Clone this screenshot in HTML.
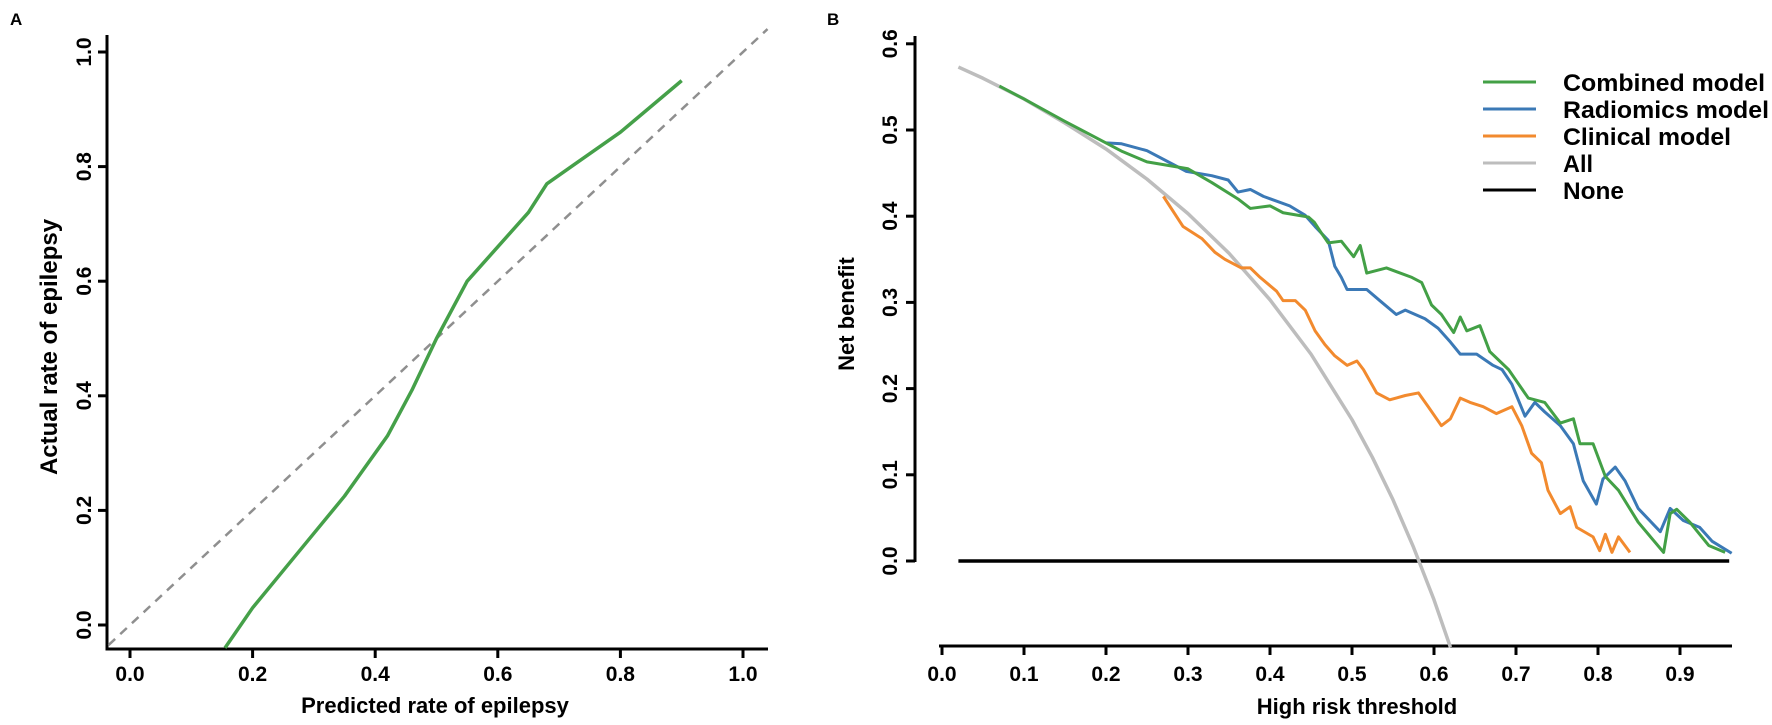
<!DOCTYPE html>
<html><head><meta charset="utf-8"><style>
html,body{margin:0;padding:0;background:#fff;}
svg{display:block;font-family:"Liberation Sans",Arial,sans-serif;}
</style></head><body>
<svg id="fig" width="1772" height="725" viewBox="0 0 1772 725" xmlns="http://www.w3.org/2000/svg">
<g id="pa"></g>
<g id="pb"></g>
</svg>
<script>
// Panel A data
const calPred = [0.155,0.2,0.25,0.3,0.35,0.38,0.42,0.46,0.5,0.55,0.6,0.65,0.68,0.72,0.8,0.9];
const calActual = [-0.04,0.03,0.095,0.16,0.225,0.27,0.33,0.41,0.5,0.6,0.66,0.72,0.77,0.8,0.86,0.95];
const aTicks = ["0.0","0.2","0.4","0.6","0.8","1.0"];
// Panel B data
const bXTicks = ["0.0","0.1","0.2","0.3","0.4","0.5","0.6","0.7","0.8","0.9"];
const bYTicks = ["0.0","0.1","0.2","0.3","0.4","0.5","0.6"];
const combT = [0.07,0.1,0.15,0.2,0.22,0.25,0.3,0.329,0.361,0.376,0.4,0.416,0.435,0.447,0.454,0.463,0.471,0.487,0.502,0.51,0.518,0.542,0.573,0.585,0.597,0.609,0.624,0.632,0.64,0.656,0.668,0.691,0.715,0.735,0.754,0.77,0.778,0.794,0.809,0.825,0.849,0.88,0.888,0.896,0.912,0.935,0.955];
const combV = [0.551,0.536,0.51,0.485,0.475,0.463,0.455,0.439,0.42,0.409,0.412,0.404,0.401,0.399,0.393,0.38,0.369,0.371,0.353,0.366,0.334,0.34,0.329,0.323,0.297,0.286,0.265,0.283,0.267,0.273,0.243,0.222,0.189,0.184,0.16,0.165,0.136,0.136,0.098,0.082,0.045,0.01,0.055,0.06,0.045,0.018,0.01];
const radT = [0.2,0.219,0.25,0.298,0.329,0.349,0.361,0.376,0.392,0.424,0.443,0.455,0.471,0.479,0.487,0.494,0.518,0.534,0.554,0.565,0.589,0.605,0.62,0.632,0.652,0.672,0.683,0.695,0.711,0.723,0.735,0.754,0.77,0.782,0.798,0.806,0.821,0.833,0.849,0.876,0.888,0.904,0.924,0.939,0.963];
const radV = [0.485,0.484,0.476,0.452,0.447,0.442,0.428,0.431,0.423,0.412,0.401,0.388,0.372,0.342,0.329,0.315,0.315,0.302,0.286,0.291,0.281,0.27,0.254,0.24,0.24,0.227,0.222,0.205,0.168,0.184,0.173,0.157,0.136,0.093,0.066,0.095,0.109,0.093,0.061,0.034,0.061,0.047,0.039,0.023,0.009];
const clinT = [0.27,0.294,0.317,0.333,0.345,0.365,0.376,0.388,0.408,0.416,0.431,0.443,0.455,0.467,0.479,0.494,0.506,0.514,0.53,0.546,0.565,0.581,0.593,0.609,0.62,0.632,0.644,0.66,0.676,0.695,0.707,0.719,0.731,0.739,0.754,0.766,0.774,0.794,0.802,0.809,0.817,0.825,0.839];
const clinV = [0.423,0.388,0.374,0.358,0.35,0.34,0.34,0.329,0.313,0.302,0.302,0.291,0.267,0.251,0.238,0.227,0.232,0.222,0.195,0.187,0.192,0.195,0.179,0.157,0.165,0.189,0.184,0.179,0.171,0.179,0.157,0.125,0.114,0.082,0.055,0.063,0.039,0.028,0.012,0.031,0.01,0.028,0.01];
const allT = [0.02,0.05,0.1,0.15,0.2,0.25,0.3,0.35,0.4,0.45,0.5,0.525,0.55,0.575,0.6,0.62];
const allV = [0.573,0.56,0.536,0.508,0.478,0.443,0.403,0.357,0.303,0.24,0.164,0.12,0.071,0.016,-0.045,-0.1];
const noneT = [0.02,0.96];
const noneV = [0,0];
const legendNames = ["Combined model","Radiomics model","Clinical model","All","None"];

const NS="http://www.w3.org/2000/svg";
function mk(parent,tag,attrs,text){const e=document.createElementNS(NS,tag);for(const k in attrs)e.setAttribute(k,attrs[k]);if(text!==undefined)e.textContent=text;parent.appendChild(e);return e;}

// ---- Panel A ----
const pa=document.getElementById('pa');
const xA=v=>130+613*v, yA=v=>625-573*v;
let t=mk(pa,'text',{x:10,y:25,'font-size':17,'font-weight':'bold'},'A');


let l=mk(pa,'path',{d:`M107,35V649H768`,fill:'none',stroke:'#000','stroke-width':3});


aTicks.forEach((s,i)=>{const v=i*0.2;
 mk(pa,'line',{x1:xA(v),x2:xA(v),y1:649,y2:658,stroke:'#000','stroke-width':3});
 const tx=mk(pa,'text',{x:xA(v),y:681,'font-size':21,'font-weight':'bold','text-anchor':'middle'},s);
 
 
 mk(pa,'line',{x1:98,x2:107,y1:yA(v),y2:yA(v),stroke:'#000','stroke-width':3});
 const ty=mk(pa,'text',{x:91,y:yA(v),'font-size':21,'font-weight':'bold','text-anchor':'middle',transform:`rotate(-90 91 ${yA(v)})`},s);
 
 
});
t=mk(pa,'text',{x:435,y:713,'font-size':22,'font-weight':'bold','text-anchor':'middle'},'Predicted rate of epilepsy');


t=mk(pa,'text',{x:57,y:347,'font-size':24,'font-weight':'bold','text-anchor':'middle',transform:'rotate(-90 57 347)'},'Actual rate of epilepsy');


l=mk(pa,'line',{x1:xA(-0.035),y1:yA(-0.035),x2:xA(1.04),y2:yA(1.04),stroke:'#8f8f8f','stroke-width':2.5,'stroke-dasharray':'9,7'});


l=mk(pa,'polyline',{points:calPred.map((p,i)=>xA(p)+','+yA(calActual[i])).join(' '),fill:'none',stroke:'#45a049','stroke-width':3.5,'stroke-linejoin':'round'});



// ---- Panel B ----
const pb=document.getElementById('pb');
const xB=v=>942+820*v, yB=v=>561-862*v;
t=mk(pb,'text',{x:827,y:25,'font-size':17,'font-weight':'bold'},'B');


l=mk(pb,'line',{x1:915,x2:915,y1:36,y2:562,stroke:'#000','stroke-width':3});


l=mk(pb,'line',{x1:939,x2:1732,y1:646,y2:646,stroke:'#000','stroke-width':3});


bXTicks.forEach((s,i)=>{const v=i*0.1;
 mk(pb,'line',{x1:xB(v),x2:xB(v),y1:646,y2:655,stroke:'#000','stroke-width':3});
 const tx=mk(pb,'text',{x:xB(v),y:681,'font-size':21,'font-weight':'bold','text-anchor':'middle'},s);
 
 
});
bYTicks.forEach((s,i)=>{const v=i*0.1;
 mk(pb,'line',{x1:906,x2:915,y1:yB(v),y2:yB(v),stroke:'#000','stroke-width':3});
 const ty=mk(pb,'text',{x:897,y:yB(v),'font-size':21,'font-weight':'bold','text-anchor':'middle',transform:`rotate(-90 897 ${yB(v)})`},s);
 
 
});
t=mk(pb,'text',{x:1357,y:714,'font-size':22,'font-weight':'bold','text-anchor':'middle'},'High risk threshold');


t=mk(pb,'text',{x:854,y:314,'font-size':22,'font-weight':'bold','text-anchor':'middle',transform:'rotate(-90 854 314)'},'Net benefit');



const series=[
 {T:noneT,V:noneV,c:'#000000',w:3.5,n:'none-line'},
 {T:allT,V:allV,c:'#bdbdbd',w:3.5,n:'all-line'},
 {T:clinT,V:clinV,c:'#f28a2e',w:3,n:'clinical-model-line'},
 {T:radT,V:radV,c:'#3b79b6',w:3,n:'radiomics-model-line'},
 {T:combT,V:combV,c:'#43a046',w:3,n:'combined-model-line'}];
series.forEach(s=>{
 const p=mk(pb,'polyline',{points:s.T.map((x,i)=>xB(x)+','+yB(s.V[i])).join(' '),fill:'none',stroke:s.c,'stroke-width':s.w,'stroke-linejoin':'round'});
 
 
});
const legCols=['#43a046','#3b79b6','#f28a2e','#bdbdbd','#000000'];
const legW=[202,206,168,30,61];
const lg=mk(pb,'g',{});


legendNames.forEach((nm,i)=>{const y=82+27*i;
 mk(lg,'line',{x1:1483,x2:1536,y1:y,y2:y,stroke:legCols[i],'stroke-width':3});
 const e=mk(lg,'text',{x:1563,y:y+9,'font-size':24,'font-weight':'bold',textLength:legW[i],lengthAdjust:'spacingAndGlyphs'},nm);
 
 
});
</script>
</body></html>
